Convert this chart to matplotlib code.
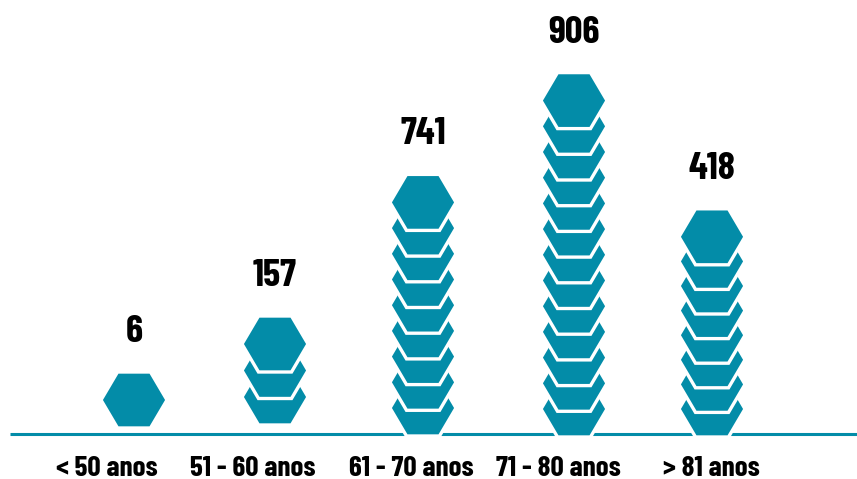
import matplotlib
matplotlib.use("Agg")
import matplotlib.pyplot as plt
from matplotlib.patches import Polygon

# ---- data ----
categories = ["< 50 anos", "51 - 60 anos", "61 - 70 anos", "71 - 80 anos", "> 81 anos"]
values = [6, 157, 741, 906, 418]
icon_counts = [1, 3, 9, 13, 8]

# ---- layout (pixel-based) ----
W, H = 857, 479
col_x = [134, 275, 423, 574, 712]          # hexagon column centres
base_px = [428, 425, 436, 437, 437]        # bottom of each stack
pitch = [25.7, 26.5, 25.7, 25.7, 24.6]     # vertical step between icons (px)
label_x = [107, 253, 411, 558, 711]        # category label centres
hex_w, hex_h = 66, 56
teal = "#038ca8"
fam = ["Barlow Condensed", "DejaVu Sans"]

fig = plt.figure(figsize=(W / 100, H / 100), dpi=100)
ax = fig.add_axes([0, 0, 1, 1])
ax.set_xlim(0, W)
ax.set_ylim(H, 0)
ax.axis("off")

# baseline
ax.plot([10, W], [434, 434], color=teal, lw=2.2, solid_capstyle="butt", zorder=1)

def hexagon(cx, bottom):
    hw, hh = hex_w / 2, hex_h / 2
    yc = bottom - hh
    return [(cx - hw, yc), (cx - hw / 2, yc - hh), (cx + hw / 2, yc - hh),
            (cx + hw, yc), (cx + hw / 2, yc + hh), (cx - hw / 2, yc + hh)]

for i, (cx, n, v) in enumerate(zip(col_x, icon_counts, values)):
    b0 = base_px[i]
    for k in range(n):
        bottom = b0 - k * pitch[i]
        p = Polygon(hexagon(cx, bottom), closed=True, facecolor=teal,
                    edgecolor="white", lw=2.4, zorder=2 + k)
        ax.add_patch(p)
    top = b0 - (n - 1) * pitch[i] - hex_h
    ax.text(cx, top - 40, str(v), ha="center", va="center", fontsize=28,
            fontweight="bold", family=fam, color="black")

for lx, c in zip(label_x, categories):
    ax.text(lx, 468, c, ha="center", va="center", fontsize=21,
            fontweight="bold", family=fam, color="black")

fig.savefig("out.png", dpi=100, facecolor="white")
